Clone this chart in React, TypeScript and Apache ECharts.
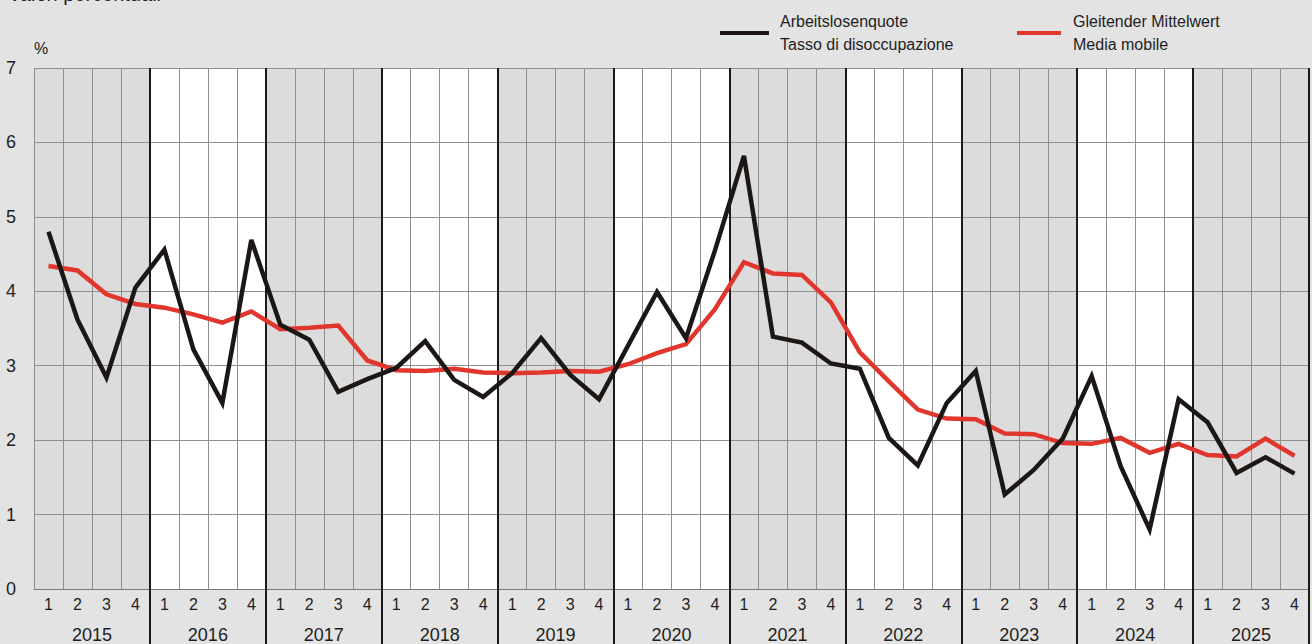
import React, { useEffect, useRef } from "react";
import * as echarts from "echarts";

const years = ["2015", "2016", "2017", "2018", "2019", "2020", "2021", "2022", "2023", "2024", "2025"];
const quarterNames = ["1", "2", "3", "4"];
const quarters: string[] = years.flatMap(() => quarterNames);

const unemploymentRate = [
  4.80, 3.62, 2.84, 4.05,
  4.56, 3.22, 2.50, 4.69,
  3.55, 3.35, 2.65, 2.82,
  2.97, 3.33, 2.81, 2.58,
  2.90, 3.37, 2.88, 2.55,
  3.27, 3.99, 3.37, 4.55,
  5.82, 3.39, 3.31, 3.03,
  2.96, 2.03, 1.66, 2.50,
  2.93, 1.27, 1.60, 2.02,
  2.86, 1.65, 0.80, 2.55,
  2.24, 1.56, 1.77, 1.55,
];

const movingAverage = [
  4.34, 4.28, 3.96, 3.83,
  3.78, 3.69, 3.58, 3.73,
  3.49, 3.51, 3.54, 3.07,
  2.94, 2.93, 2.96, 2.91,
  2.90, 2.91, 2.93, 2.92,
  3.02, 3.17, 3.29, 3.76,
  4.39, 4.24, 4.22, 3.85,
  3.18, 2.79, 2.41, 2.29,
  2.28, 2.09, 2.08, 1.96,
  1.95, 2.03, 1.83, 1.95,
  1.80, 1.78, 2.02, 1.79,
];

const rateName = "Arbeitslosenquote\nTasso di disoccupazione";
const avgName = "Gleitender Mittelwert\nMedia mobile";
const titleText = "Valori percentuali";

const FONT = "Liberation Sans, Arial, sans-serif";
const TEXT = "#1e1e1e";

export default function App() {
  const ref = useRef<HTMLDivElement>(null);
  useEffect(() => {
    if (!ref.current) return;
    const chart = echarts.init(ref.current, null, { renderer: "svg" });
    chart.setOption({
      animation: false,
      backgroundColor: "#e3e3e3",
      textStyle: { fontFamily: FONT },
      graphic: [
        {
          type: "text",
          left: 8,
          top: -16,
          style: { text: titleText, fontSize: 20, fontFamily: FONT, fill: TEXT },
        },
      ],
      legend: [
        {
          data: [rateName],
          left: 715,
          top: 5,
          icon: "rect",
          itemWidth: 49,
          itemHeight: 4,
          textStyle: { fontSize: 16, lineHeight: 23, color: TEXT, fontFamily: FONT, padding: [0, 0, 0, 6] },
        },
        {
          data: [avgName],
          left: 1012,
          top: 5,
          icon: "rect",
          itemWidth: 44,
          itemHeight: 4,
          textStyle: { fontSize: 16, lineHeight: 23, color: TEXT, fontFamily: FONT, padding: [0, 0, 0, 7] },
        },
      ],
      grid: { left: 34, right: 3, top: 68, bottom: 54, containLabel: false },
      xAxis: [
        {
          type: "category",
          position: "bottom",
          data: years,
          boundaryGap: true,
          z: 0,
          axisLine: { show: false },
          axisTick: { show: false },
          axisLabel: { show: false },
          splitLine: { show: false },
          splitArea: { show: true, interval: 0, areaStyle: { color: ["#dcdcdc", "#ffffff"] } },
        },
        {
          type: "category",
          position: "bottom",
          data: quarters,
          boundaryGap: true,
          z: 1,
          axisLine: { show: true, lineStyle: { color: "#7a7a7a", width: 1 } },
          axisTick: { show: false },
          axisLabel: { interval: 0, fontSize: 16, color: TEXT, margin: 7, fontFamily: FONT },
          splitLine: {
            show: true,
            interval: (index: number) => index % 4 !== 0 || index === 0,
            lineStyle: { color: "#8f8f8f", width: 1 },
          },
        },
        {
          type: "category",
          position: "bottom",
          data: years,
          boundaryGap: true,
          z: 3,
          axisLine: { show: false },
          axisTick: {
            show: true,
            interval: (index: number) => index > 0,
            length: 56,
            lineStyle: { color: "#1a1a1a", width: 2 },
          },
          axisLabel: { interval: 0, fontSize: 18, color: TEXT, margin: 37, fontFamily: FONT },
          splitLine: {
            show: true,
            interval: (index: number) => index > 0,
            lineStyle: { color: "#1a1a1a", width: 2 },
          },
        },
      ],
      yAxis: {
        type: "value",
        min: 0,
        max: 7,
        interval: 1,
        z: 1,
        name: "%",
        nameLocation: "end",
        nameGap: 12,
        nameTextStyle: { fontSize: 16, color: TEXT, align: "left", fontFamily: FONT },
        axisLine: { show: false },
        axisTick: { show: false },
        axisLabel: { fontSize: 18, color: TEXT, margin: 18, fontFamily: FONT },
        splitLine: { show: true, lineStyle: { color: "#8f8f8f", width: 1 } },
      },
      series: [
        {
          name: rateName,
          type: "line",
          xAxisIndex: 1,
          data: unemploymentRate,
          symbol: "none",
          z: 6,
          itemStyle: { color: "#1c1714" },
          lineStyle: { color: "#1c1714", width: 4.5, join: "miter", miterLimit: 10 },
        },
        {
          name: avgName,
          type: "line",
          xAxisIndex: 1,
          data: movingAverage,
          symbol: "none",
          z: 5,
          itemStyle: { color: "#e1362d" },
          lineStyle: { color: "#e1362d", width: 4.5, join: "miter", miterLimit: 10 },
        },
      ],
    });
    return () => chart.dispose();
  }, []);
  return (
    <div
      ref={ref}
      style={{ position: "fixed", left: 0, top: 0, width: 1312, height: 644 }}
    />
  );
}
